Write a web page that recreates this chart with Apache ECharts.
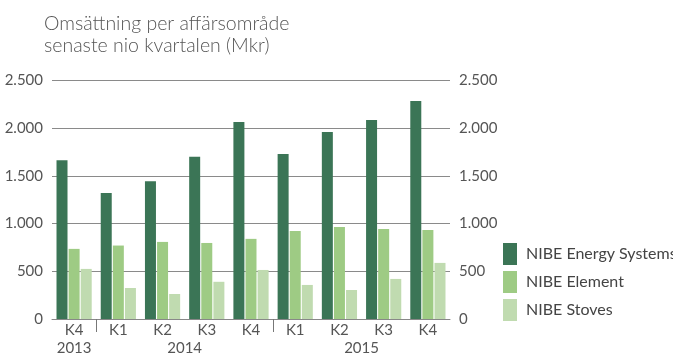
<!DOCTYPE html>
<html>
<head>
<meta charset="utf-8">
<script src="https://cdn.jsdelivr.net/npm/echarts@6/dist/echarts.min.js"></script>
<style>
  html, body { margin: 0; padding: 0; background: #fff; }
  #chart { width: 673px; height: 356px; }
</style>
</head>
<body>
<div id="chart"></div>
<script>
// Quarterly net sales per business area (MSEK)
const quarters = ['K4', 'K1', 'K2', 'K3', 'K4', 'K1', 'K2', 'K3', 'K4'];
const years = ['2013', '2014', '2015'];
const yearCenters = [0.5, 3, 7];      // positions on the 0..9 quarter scale
const yearBreaks = [1, 5];            // quarter boundaries where a new year starts

const energySystems = [1665, 1320, 1445, 1700, 2065, 1730, 1960, 2085, 2285];
const element = [735, 770, 808, 797, 840, 922, 965, 944, 934];
const stoves = [525, 325, 262, 390, 514, 357, 304, 420, 588];

const yTicks = [0, 500, 1000, 1500, 2000, 2500];
const yTickLabels = ['0', '500', '1.000', '1.500', '2.000', '2.500'];

const seriesNames = ['NIBE Energy Systems', 'NIBE Element', 'NIBE Stoves'];
const colors = ['#3b7556', '#9ecb84', '#c0dbb0'];

const FONT = 'Lato';
const textGray = '#555';

function yLabel(v) {
  const i = yTicks.indexOf(v);
  return i >= 0 ? yTickLabels[i] : '';
}

const chart = echarts.init(document.getElementById('chart'), null, { renderer: 'canvas' });

const yAxisCommon = {
  type: 'value',
  min: 0,
  max: 2500,
  interval: 500,
  axisLine: { show: false },
  axisTick: { show: false },
  axisLabel: { color: textGray, fontFamily: FONT, fontSize: 15, margin: 9, formatter: yLabel }
};

chart.setOption({
  animation: false,
  color: colors,
  textStyle: { fontFamily: FONT },
  title: {
    text: 'Omsättning per affärsområde\nsenaste nio kvartalen (Mkr)',
    left: 39,
    top: 8,
    textStyle: { fontFamily: FONT, fontSize: 19.5, fontWeight: 300, color: textGray, lineHeight: 22 }
  },
  legend: {
    orient: 'vertical',
    left: 503,
    top: 243,
    padding: 0,
    itemWidth: 14,
    itemHeight: 22,
    itemGap: 6,
    icon: 'rect',
    data: seriesNames,
    textStyle: { color: '#444', fontFamily: FONT, fontSize: 16, padding: [0, 0, 0, 4] }
  },
  grid: { left: 52, right: 223, top: 80.5, bottom: 36 },
  xAxis: [
    {
      type: 'category',
      data: quarters,
      axisLine: { lineStyle: { color: '#888', width: 1 } },
      axisTick: { show: false },
      axisLabel: { color: textGray, fontFamily: FONT, fontSize: 15, margin: 4 }
    },
    {
      type: 'value',
      min: 0,
      max: 9,
      position: 'bottom',
      axisLine: { show: false },
      splitLine: { show: false },
      axisTick: {
        show: true,
        customValues: yearBreaks,
        length: 13,
        lineStyle: { color: '#777', width: 1 }
      },
      axisLabel: {
        customValues: yearCenters,
        color: textGray,
        fontFamily: FONT,
        fontSize: 15,
        margin: 22,
        formatter: function (v) {
          const i = yearCenters.indexOf(v);
          return i >= 0 ? years[i] : '';
        }
      }
    }
  ],
  yAxis: [
    Object.assign({}, yAxisCommon, {
      position: 'left',
      splitLine: { show: true, lineStyle: { color: '#8a8a8a', width: 1 } }
    }),
    Object.assign({}, yAxisCommon, {
      position: 'right',
      splitLine: { show: false }
    })
  ],
  series: [energySystems, element, stoves].map(function (values, i) {
    return {
      name: seriesNames[i],
      type: 'bar',
      xAxisIndex: 0,
      yAxisIndex: 0,
      data: values,
      barWidth: 11,
      barGap: '10%',
      itemStyle: { color: colors[i] }
    };
  })
});
</script>
</body>
</html>
